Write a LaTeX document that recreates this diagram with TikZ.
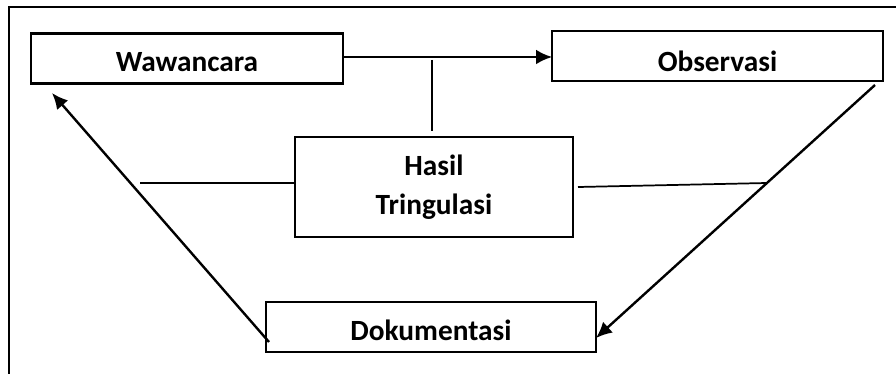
\documentclass[tikz,border=0pt]{standalone}
\usepackage{fontspec}
\setmainfont{Carlito}
\usepackage{tikz}
\usetikzlibrary{arrows.meta,positioning,calc}
\tikzset{>={Latex[length=12pt,width=11pt]}}

\begin{document}
\begin{tikzpicture}[x=0.75pt,y=-0.75pt,
    kotak/.style={draw=black, line width=1.8pt, rectangle, inner sep=0pt, outer sep=0pt,
        align=center, font=\fontsize{22}{27}\selectfont\bfseries},
    satu/.style={text height=20pt, text depth=0pt},
    garis/.style={line width=1.8pt}]
            \useasboundingbox (0,0) rectangle (896,374);
            \draw[line width=1.6pt] (9,374) -- (9,7) -- (896,7);

            \node[kotak, satu, minimum width=234pt, minimum height=37.5pt] (waw) at (187,58.5) {Wawancara};
            \node[kotak, satu, text height=23pt, minimum width=248pt, minimum height=37.5pt] (obs) at (717.5,56) {Observasi};
            \node[kotak, font=\fontsize{22}{29}\selectfont\bfseries, minimum width=208.5pt, minimum height=75pt] (hasil) at (434,187) {Hasil\\Tringulasi};
            \node[kotak, satu, minimum width=247.5pt, minimum height=37.5pt] (dok) at (431,327) {Dokumentasi};

            \coordinate (vatas) at (432,60);
            \coordinate (vbawah) at (432,131);
            \coordinate (hkiri) at (140,183);
            \coordinate (hkanan1) at (578,187);
            \coordinate (hkanan2) at (767,183);
            \coordinate (dkanan) at (875,85);
            \coordinate (ujungdok) at (596,338);
            \coordinate (dkiri) at (269,342);
            \coordinate (ujungwaw) at (52,93);

            \draw[garis,->] (waw.east |- 0,57) -- (obs.west |- 0,57);
            \draw[line width=1.3pt] (vatas) -- (vbawah);
            \draw[line width=1.3pt] (hkiri) -- (hkiri -| hasil.west);
            \draw[line width=1.3pt] (hkanan1) -- (hkanan2);
            \draw[garis,->] (dkanan) -- (ujungdok);
            \draw[garis,->] (dkiri) -- (ujungwaw);
        \end{tikzpicture}
\end{document}
